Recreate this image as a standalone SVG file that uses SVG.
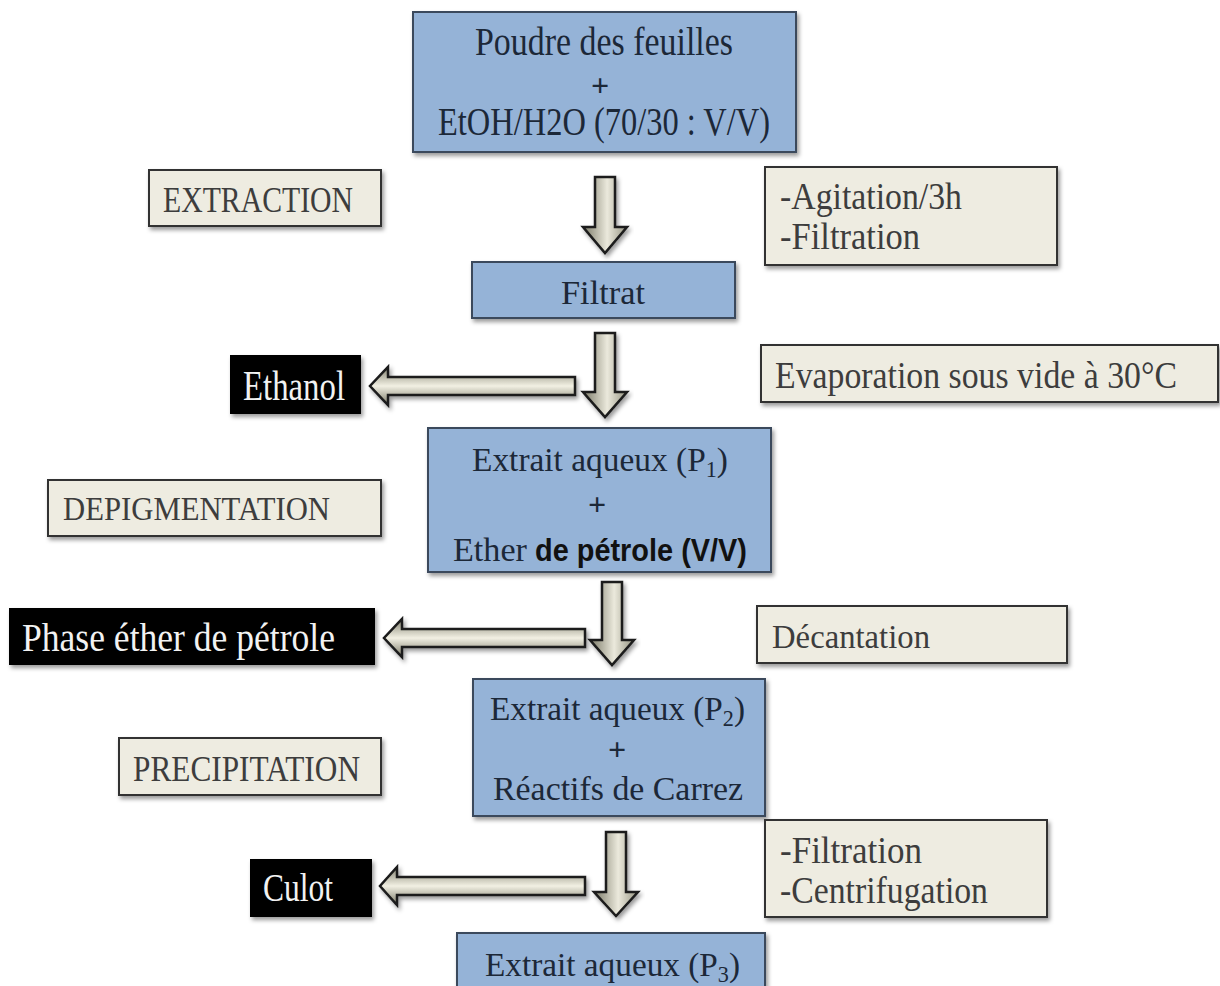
<svg xmlns="http://www.w3.org/2000/svg" width="1220" height="986" viewBox="0 0 1220 986">
<defs>
<linearGradient id="gd" x1="0" y1="0" x2="1" y2="0">
<stop offset="0" stop-color="#7a7967"/><stop offset="0.55" stop-color="#ebe9dc"/><stop offset="1" stop-color="#959482"/>
</linearGradient>
<linearGradient id="gl" x1="0" y1="0" x2="0" y2="1">
<stop offset="0" stop-color="#81806f"/><stop offset="0.5" stop-color="#f2f0e3"/><stop offset="1" stop-color="#7a7967"/>
</linearGradient>
<filter id="sh" x="-10%" y="-10%" width="125%" height="135%">
<feDropShadow dx="2" dy="3" stdDeviation="2" flood-color="#000" flood-opacity="0.4"/>
</filter>
<style>
.blue{fill:#95b3d7;stroke:#3b4a5c;stroke-width:2;filter:url(#sh)}
.grey{fill:#eeece1;stroke:#333;stroke-width:2;filter:url(#sh)}
.black{fill:#000;filter:url(#sh)}
.t{font-family:"Liberation Serif","Times New Roman",serif;font-size:30px}
.tb{fill:#1c2838}
.tg{fill:#3d3d3d}
.tw{fill:#f2f2f2}
.plus{font-family:"Liberation Serif","Times New Roman",serif;font-size:32px;font-weight:bold;fill:#1c2838}
.bs{font-family:"Liberation Sans",Arial,sans-serif;font-weight:bold;font-size:28px;fill:#111}
.ad{fill:url(#gd);stroke:#1a1a1a;stroke-width:2.5;stroke-linejoin:miter;filter:url(#sh)}
.al{fill:url(#gl);stroke:#1a1a1a;stroke-width:2.5;stroke-linejoin:miter;filter:url(#sh)}
</style>
</defs>
<rect width="1220" height="986" fill="#fff"/>

<g id="connectors">
<path class="ad" d="M595,177 H615 V227 H627 L605,253 L583,227 H595 Z"/>
<path class="ad" d="M595,333 H615 V392 H627 L605,417 L583,392 H595 Z"/>
<path class="ad" d="M602,582 H622 V640 H634 L612,665 L590,640 H602 Z"/>
<path class="ad" d="M606,832 H626 V892 H638 L616,916 L594,892 H606 Z"/>
<path class="al" d="M575,377 V395 H388 V405 L370,386 L388,367 V377 Z"/>
<path class="al" d="M585,629 V647 H402 V657 L384,638 L402,619 V629 Z"/>
<path class="al" d="M585,877 V895 H397 V905 L380,886 L397,867 V877 Z"/>
</g>

<g id="n-poudre">
<rect class="blue" x="413" y="12" width="383" height="140"/>
<text class="t tb" transform="translate(475,55) scale(1,1.3)" textLength="258" lengthAdjust="spacingAndGlyphs">Poudre des feuilles</text>
<text class="plus" x="600" y="96" text-anchor="middle">+</text>
<text class="t tb" transform="translate(438,135) scale(1,1.3)" textLength="332" lengthAdjust="spacingAndGlyphs">EtOH/H2O (70/30 : V/V)</text>
</g>

<g id="n-extraction">
<rect class="grey" x="149" y="170" width="232" height="56"/>
<text class="t tg" transform="translate(163,212) scale(1,1.2)" textLength="190" lengthAdjust="spacingAndGlyphs">EXTRACTION</text>
</g>

<g id="n-agitation">
<rect class="grey" x="765" y="167" width="292" height="98"/>
<text class="t tg" transform="translate(780,209) scale(1,1.25)" textLength="182" lengthAdjust="spacingAndGlyphs">-Agitation/3h</text>
<text class="t tg" transform="translate(780,249) scale(1,1.25)" textLength="140" lengthAdjust="spacingAndGlyphs">-Filtration</text>
</g>

<g id="n-filtrat">
<rect class="blue" x="472" y="262" width="263" height="56"/>
<text class="t tb" transform="translate(561,304) scale(1,1.15)" textLength="84" lengthAdjust="spacingAndGlyphs">Filtrat</text>
</g>

<g id="n-ethanol">
<rect class="black" x="230" y="355" width="131" height="59"/>
<text class="t tw" transform="translate(243,400) scale(1,1.4)" textLength="102" lengthAdjust="spacingAndGlyphs">Ethanol</text>
</g>

<g id="n-evaporation">
<rect class="grey" x="761" y="345" width="457" height="57"/>
<text class="t tg" transform="translate(775,388) scale(1,1.25)" textLength="402" lengthAdjust="spacingAndGlyphs">Evaporation sous vide à 30°C</text>
</g>

<g id="n-p1">
<rect class="blue" x="428" y="428" width="343" height="144"/>
<text class="t tb" transform="translate(472,471) scale(1,1.15)" textLength="256" lengthAdjust="spacingAndGlyphs">Extrait aqueux (P<tspan font-size="20" dy="5">1</tspan><tspan dy="-5">)</tspan></text>
<text class="plus" x="597" y="515" text-anchor="middle">+</text>
<text class="t tb" transform="translate(453,561) scale(1,1.15)" textLength="74" lengthAdjust="spacingAndGlyphs">Ether</text>
<text class="bs" transform="translate(535,561) scale(1,1.1)" textLength="212" lengthAdjust="spacingAndGlyphs">de pétrole (V/V)</text>
</g>

<g id="n-depigmentation">
<rect class="grey" x="48" y="480" width="333" height="56"/>
<text class="t tg" transform="translate(63,520) scale(1,1.12)" textLength="267" lengthAdjust="spacingAndGlyphs">DEPIGMENTATION</text>
</g>

<g id="n-phase">
<rect class="black" x="9" y="608" width="366" height="57"/>
<text class="t tw" transform="translate(22,651) scale(1,1.3)" textLength="313" lengthAdjust="spacingAndGlyphs">Phase éther de pétrole</text>
</g>

<g id="n-decantation">
<rect class="grey" x="757" y="606" width="310" height="57"/>
<text class="t tg" transform="translate(772,648) scale(1,1.15)" textLength="158" lengthAdjust="spacingAndGlyphs">Décantation</text>
</g>

<g id="n-p2">
<rect class="blue" x="473" y="679" width="292" height="137"/>
<text class="t tb" transform="translate(490,720) scale(1,1.15)" textLength="255" lengthAdjust="spacingAndGlyphs">Extrait aqueux (P<tspan font-size="20" dy="5">2</tspan><tspan dy="-5">)</tspan></text>
<text class="plus" x="617" y="760" text-anchor="middle">+</text>
<text class="t tb" transform="translate(493,800) scale(1,1.15)" textLength="250" lengthAdjust="spacingAndGlyphs">Réactifs de Carrez</text>
</g>

<g id="n-precipitation">
<rect class="grey" x="119" y="738" width="262" height="57"/>
<text class="t tg" transform="translate(133,781) scale(1,1.2)" textLength="227" lengthAdjust="spacingAndGlyphs">PRECIPITATION</text>
</g>

<g id="n-culot">
<rect class="black" x="250" y="859" width="122" height="58"/>
<text class="t tw" transform="translate(263,901) scale(1,1.3)" textLength="70" lengthAdjust="spacingAndGlyphs">Culot</text>
</g>

<g id="n-filtration">
<rect class="grey" x="765" y="820" width="282" height="97"/>
<text class="t tg" transform="translate(780,863) scale(1,1.25)" textLength="142" lengthAdjust="spacingAndGlyphs">-Filtration</text>
<text class="t tg" transform="translate(780,903) scale(1,1.25)" textLength="208" lengthAdjust="spacingAndGlyphs">-Centrifugation</text>
</g>

<g id="n-p3">
<rect class="blue" x="457" y="933" width="308" height="70"/>
<text class="t tb" transform="translate(485,976) scale(1,1.15)" textLength="255" lengthAdjust="spacingAndGlyphs">Extrait aqueux (P<tspan font-size="20" dy="5">3</tspan><tspan dy="-5">)</tspan></text>
</g>
</svg>
